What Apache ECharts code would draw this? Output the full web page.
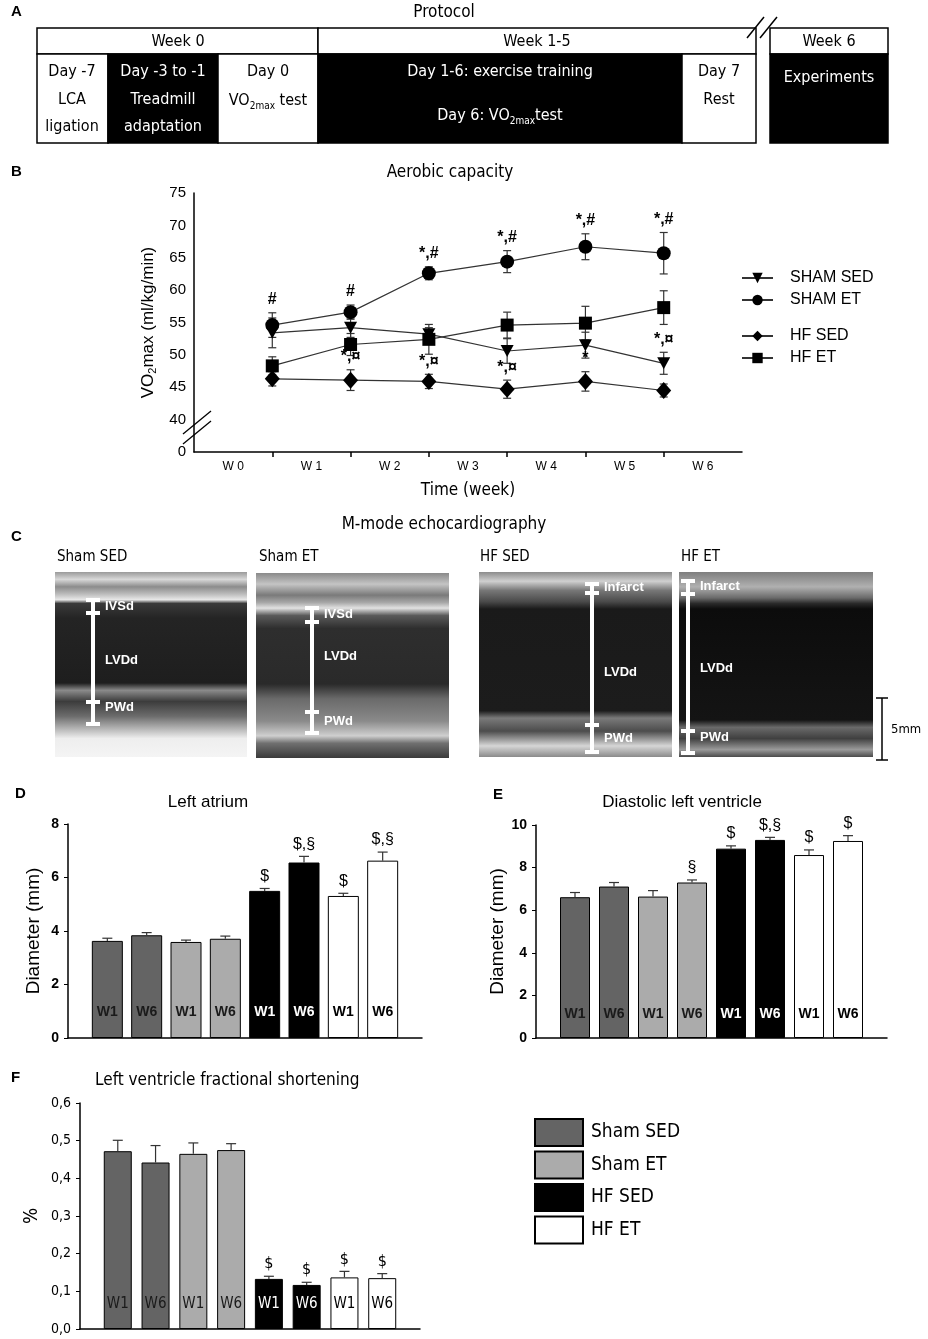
<!DOCTYPE html>
<html>
<head>
<meta charset="utf-8">
<script src="https://cdn.jsdelivr.net/npm/echarts@6/dist/echarts.min.js"></script>
<style>
  html, body { margin: 0; padding: 0; background: #fff; }
  #chart { width: 928px; height: 1339px; }
</style>
</head>
<body>
<div id="chart"></div>
<script>
// ---- panel B: aerobic capacity (VO2max, mean and SEM) ----
const weekLabels = ['W 0', 'W 1', 'W 2', 'W 3', 'W 4', 'W 5', 'W 6']
const shamSed = [53.4, 54.2, 53.2, 50.6, 51.5, 48.7]
const shamSedErr = [2.3, 1.5, 1.0, 1.9, 2.0, 1.7]
const shamSedMark = ['', '', '', '', '', '*,¤']
const shamEt = [54.6, 56.6, 62.6, 64.4, 66.7, 65.7]
const shamEtErr = [1.9, 1.1, 1.0, 1.7, 2.0, 3.2]
const shamEtMark = ['#', '#', '*,#', '*,#', '*,#', '*,#']
const hfSed = [46.3, 46.1, 45.9, 44.7, 45.9, 44.5]
const hfSedErr = [1.1, 1.6, 1.1, 1.4, 1.5, 1.0]
const hfSedMark = ['', '*,¤', '*,¤', '*,¤', '*', '']
const hfEt = [48.3, 51.6, 52.4, 54.6, 54.9, 57.3]
const hfEtErr = [1.4, 1.7, 2.3, 2.0, 2.6, 2.6]
const hfEtMark = ['', '', '', '', '', '']

// ---- panels D, E, F: echo bars (W1, W6 per group) ----
const groups = ['Sham SED', 'Sham ET', 'HF SED', 'HF ET']
const weeks = ['W1', 'W6']
const laMean = [3.63, 3.84, 3.59, 3.71, 5.50, 6.56, 5.31, 6.63]
const laErr = [0.10, 0.10, 0.07, 0.10, 0.09, 0.23, 0.10, 0.32]
const laMark = ['', '', '', '', '$', '$,§', '$', '$,§']
const lvMean = [6.61, 7.11, 6.64, 7.30, 8.89, 9.30, 8.59, 9.25]
const lvErr = [0.22, 0.19, 0.28, 0.12, 0.13, 0.12, 0.24, 0.25]
const lvMark = ['', '', '', '§', '$', '$,§', '$', '$']
const fsMean = [0.472, 0.442, 0.465, 0.475, 0.133, 0.117, 0.137, 0.135]
const fsErr = [0.029, 0.045, 0.029, 0.017, 0.007, 0.007, 0.016, 0.012]
const fsMark = ['', '', '', '', '$', '$', '$', '$']

const FN = '"Liberation Sans Narrow", "Arial Narrow", "DejaVu Sans Condensed", sans-serif'
const FA = '"Liberation Sans", Arial, sans-serif'
const ECHO = ' (echo)' // suffix so bar groups don't share names with panel B lines

const groupColors = ['#646464', '#ababab', '#000000', '#ffffff']
const labelColors = ['#1a1a1a', '#1a1a1a', '#ffffff', '#000000']

const chart = echarts.init(document.getElementById('chart'))

// error bar drawer (custom series)
function errRender(capHalf, both, color) {
  return function (params, api) {
    const x = api.value(0)
    const m = api.value(1)
    const e = api.value(2)
    const top = api.coord([x, m + e])
    const bot = api.coord([x, both ? m - e : m])
    const st = { stroke: color, lineWidth: 1.2 }
    const kids = [
      { type: 'line', shape: { x1: top[0], y1: top[1], x2: bot[0], y2: bot[1] }, style: st },
      { type: 'line', shape: { x1: top[0] - capHalf, y1: top[1], x2: top[0] + capHalf, y2: top[1] }, style: st },
    ]
    if (both) {
      kids.push({ type: 'line', shape: { x1: bot[0] - capHalf, y1: bot[1], x2: bot[0] + capHalf, y2: bot[1] }, style: st })
    }
    return { type: 'group', children: kids }
  }
}

// significance marks above the error bars
function markRender(list, font, gap) {
  return function (params, api) {
    const p = api.coord([api.value(0), api.value(1)])
    return {
      type: 'text',
      style: { text: list[params.dataIndex], x: p[0], y: p[1] - gap, align: 'center', verticalAlign: 'bottom', font: font, fill: '#000' },
    }
  }
}

// ---------- panel B series ----------
const bDefs = [
  { name: 'SHAM SED', mean: shamSed, err: shamSedErr, mark: shamSedMark, symbol: 'path://M0,0 L10,0 L5,9 Z', size: [13, 12] },
  { name: 'SHAM ET', mean: shamEt, err: shamEtErr, mark: shamEtMark, symbol: 'circle', size: 14 },
  { name: 'HF SED', mean: hfSed, err: hfSedErr, mark: hfSedMark, symbol: 'diamond', size: [15, 17] },
  { name: 'HF ET', mean: hfEt, err: hfEtErr, mark: hfEtMark, symbol: 'rect', size: 13 },
]

const series = []
bDefs.forEach((d) => {
  series.push({
    type: 'custom',
    xAxisIndex: 0,
    yAxisIndex: 0,
    z: 1,
    silent: true,
    renderItem: errRender(4, true, '#333'),
    data: d.mean.map((m, i) => [i + 1, m, d.err[i]]),
  })
})
bDefs.forEach((d) => {
  series.push({
    name: d.name,
    type: 'line',
    xAxisIndex: 0,
    yAxisIndex: 0,
    z: 3,
    symbol: d.symbol,
    symbolSize: d.size,
    showAllSymbol: true,
    itemStyle: { color: '#000' },
    lineStyle: { color: '#333', width: 1.2 },
    data: d.mean.map((m, i) => [i + 1, m]),
  })
})
bDefs.forEach((d) => {
  series.push({
    type: 'custom',
    xAxisIndex: 0,
    yAxisIndex: 0,
    z: 4,
    silent: true,
    renderItem: markRender(d.mark, 'bold 16px ' + FA, 5),
    data: d.mean.map((m, i) => [i + 1, m + d.err[i]]),
  })
})

// ---------- bar panels ----------
function barPanel(xa, ya, mean, err, mark, barW, lbl, lblDist, markFont) {
  groups.forEach((grp, j) => {
    series.push({
      name: grp + ECHO,
      type: 'bar',
      xAxisIndex: xa,
      yAxisIndex: ya,
      barWidth: barW,
      barGap: '-100%',
      z: 2,
      itemStyle: { color: groupColors[j], borderColor: '#000', borderWidth: 1 },
      label: Object.assign({
        show: true,
        position: 'insideBottom',
        distance: lblDist,
        formatter: (p) => weeks[p.dataIndex],
        color: labelColors[j],
      }, lbl),
      data: [[2 * j + 1, mean[2 * j]], [2 * j + 2, mean[2 * j + 1]]],
    })
  })
  series.push({
    type: 'custom',
    xAxisIndex: xa,
    yAxisIndex: ya,
    z: 3,
    silent: true,
    renderItem: errRender(5, false, '#333'),
    data: mean.map((m, i) => [i + 1, m, err[i]]),
  })
  series.push({
    type: 'custom',
    xAxisIndex: xa,
    yAxisIndex: ya,
    z: 4,
    silent: true,
    renderItem: markRender(mark, markFont, 4),
    data: mean.map((m, i) => [i + 1, m + err[i]]),
  })
}
barPanel(2, 1, laMean, laErr, laMark, 31, { fontSize: 14, fontWeight: 'bold', fontFamily: FA }, 19, '16px ' + FA)
barPanel(3, 2, lvMean, lvErr, lvMark, 30, { fontSize: 14, fontWeight: 'bold', fontFamily: FA }, 17, '16px ' + FA)
barPanel(4, 3, fsMean, fsErr, fsMark, 28, { fontSize: 15, fontFamily: FN }, 17, '16px ' + FN)

// ---------- static drawing: panel A protocol, panel C echo frames, titles ----------
const g = []
function rect(x, y, w, h, fill, lw) {
  g.push({ type: 'rect', shape: { x: x, y: y, width: w, height: h }, style: { fill: fill, stroke: '#000', lineWidth: lw == null ? 1.5 : lw } })
}
function txt(x, y, text, font, fill, align, rich) {
  g.push({
    type: 'text',
    z: 10,
    style: { text: text, x: x, y: y, font: font, fill: fill || '#000', align: align || 'center', verticalAlign: 'middle', rich: rich },
  })
}
function line(x1, y1, x2, y2, color, lw) {
  g.push({ type: 'line', z: 10, shape: { x1: x1, y1: y1, x2: x2, y2: y2 }, style: { stroke: color, lineWidth: lw } })
}
const subRich = (col) => ({
  a: { fontSize: 16, fontFamily: FN, lineHeight: 20, fill: col },
  s: { fontSize: 10, fontFamily: FN, lineHeight: 12, verticalAlign: 'bottom', fill: col },
})

// panel letters and titles
txt(11, 12, 'A', 'bold 15px ' + FA, '#000', 'left')
txt(444, 13, 'Protocol', '17px ' + FN)
txt(11, 172, 'B', 'bold 15px ' + FA, '#000', 'left')
txt(450, 173, 'Aerobic capacity', '17px ' + FN)
txt(11, 537, 'C', 'bold 15px ' + FA, '#000', 'left')
txt(444, 525, 'M-mode echocardiography', '17px ' + FN)
txt(15, 794, 'D', 'bold 15px ' + FA, '#000', 'left')
txt(208, 802, 'Left atrium', '17px ' + FA)
txt(493, 795, 'E', 'bold 15px ' + FA, '#000', 'left')
txt(682, 802, 'Diastolic left ventricle', '17px ' + FA)
txt(11, 1078, 'F', 'bold 15px ' + FA, '#000', 'left')
txt(95, 1081, 'Left ventricle fractional shortening', '17px ' + FN, '#000', 'left')

// panel A: protocol boxes
rect(37, 28, 281, 26, '#fff')
rect(318, 28, 438, 26, '#fff')
rect(37, 54, 71, 89, '#fff')
rect(108, 54, 110, 89, '#000')
rect(218, 54, 100, 89, '#fff')
rect(318, 54, 364, 89, '#000')
rect(682, 54, 74, 89, '#fff')
rect(770, 28, 118, 26, '#fff')
rect(770, 54, 118, 89, '#000')
line(747, 38, 764, 17, '#000', 1.5)
line(760, 38, 777, 17, '#000', 1.5)
const f16 = '16px ' + FN
txt(178, 42, 'Week 0', f16)
txt(537, 42, 'Week 1-5', f16)
txt(829, 42, 'Week 6', f16)
txt(72, 72, 'Day -7', f16)
txt(72, 100, 'LCA', f16)
txt(72, 127, 'ligation', f16)
txt(163, 72, 'Day -3 to -1', f16, '#fff')
txt(163, 100, 'Treadmill', f16, '#fff')
txt(163, 127, 'adaptation', f16, '#fff')
txt(268, 72, 'Day 0', f16)
txt(268, 101, '{a|VO}{s|2max}{a| test}', f16, '#000', 'center', subRich('#000'))
txt(500, 72, 'Day 1-6: exercise training', f16, '#fff')
txt(500, 116, '{a|Day 6: VO}{s|2max}{a|test}', f16, '#fff', 'center', subRich('#fff'))
txt(719, 72, 'Day 7', f16)
txt(719, 100, 'Rest', f16)
txt(829, 78, 'Experiments', f16, '#fff')

// panel B: axis break marks
line(183, 434, 211, 411, '#000', 1.3)
line(183, 444, 211, 421, '#000', 1.3)

// panel C: echo frames (grey-scale approximation of the M-mode images)
function grad(stops) {
  return { type: 'linear', x: 0, y: 0, x2: 0, y2: 1, colorStops: stops.map((s) => ({ offset: s[0], color: s[1] })) }
}
const echoFrames = [
  { title: 'Sham SED', tx: 57, x: 55, y: 572, w: 192, h: 185,
    stops: [[0, '#9a9a9a'], [0.04, '#d8d8d8'], [0.08, '#8c8c8c'], [0.12, '#bdbdbd'], [0.15, '#e8e8e8'], [0.17, '#3a3a3a'], [0.25, '#242424'], [0.6, '#1e1e1e'], [0.64, '#8a8a8a'], [0.7, '#3c3c3c'], [0.78, '#6c6c6c'], [0.85, '#b8b8b8'], [0.9, '#eeeeee'], [1, '#f4f4f4']] },
  { title: 'Sham ET', tx: 259, x: 256, y: 573, w: 193, h: 185,
    stops: [[0, '#8a8a8a'], [0.06, '#c4c4c4'], [0.12, '#7a7a7a'], [0.16, '#a8a8a8'], [0.19, '#e2e2e2'], [0.23, '#5a5a5a'], [0.3, '#2e2e2e'], [0.6, '#2a2a2a'], [0.68, '#6a6a6a'], [0.8, '#8a8a8a'], [0.88, '#cfcfcf'], [0.92, '#707070'], [1, '#3a3a3a']] },
  { title: 'HF SED', tx: 480, x: 479, y: 572, w: 193, h: 185,
    stops: [[0, '#8c8c8c'], [0.05, '#d0d0d0'], [0.1, '#777777'], [0.16, '#4a4a4a'], [0.2, '#1a1a1a'], [0.75, '#1c1c1c'], [0.79, '#7a7a7a'], [0.86, '#4c4c4c'], [0.94, '#d6d6d6'], [1, '#8a8a8a']] },
  { title: 'HF ET', tx: 681, x: 679, y: 572, w: 194, h: 185,
    stops: [[0, '#7e7e7e'], [0.08, '#b0b0b0'], [0.14, '#6a6a6a'], [0.17, '#2a2a2a'], [0.2, '#0c0c0c'], [0.8, '#141414'], [0.84, '#6a6a6a'], [0.9, '#404040'], [0.96, '#9a9a9a'], [1, '#4a4a4a']] },
]
echoFrames.forEach((f) => {
  g.push({ type: 'rect', shape: { x: f.x, y: f.y, width: f.w, height: f.h }, style: { fill: grad(f.stops) } })
  txt(f.tx, 557, f.title, '15px ' + FN, '#000', 'left')
})
// white calliper bars: x, cap y's, label list
const callipers = [
  { x: 93, caps: [600, 613, 702, 724], labels: [['IVSd', 606], ['LVDd', 660], ['PWd', 707]] },
  { x: 312, caps: [608, 622, 712, 733], labels: [['IVSd', 614], ['LVDd', 656], ['PWd', 721]] },
  { x: 592, caps: [584, 593, 725, 752], labels: [['Infarct', 587], ['LVDd', 672], ['PWd', 738]] },
  { x: 688, caps: [581, 594, 731, 753], labels: [['Infarct', 586], ['LVDd', 668], ['PWd', 737]] },
]
callipers.forEach((c) => {
  g.push({ type: 'rect', z: 9, shape: { x: c.x - 2, y: c.caps[0], width: 4, height: c.caps[3] - c.caps[0] }, style: { fill: '#fff' } })
  c.caps.forEach((cy) => {
    g.push({ type: 'rect', z: 9, shape: { x: c.x - 7, y: cy - 2, width: 14, height: 4 }, style: { fill: '#fff' } })
  })
  c.labels.forEach((l) => txt(c.x + 12, l[1], l[0], 'bold 13px ' + FA, '#fff', 'left'))
})
// 5 mm scale
line(882, 698, 882, 760, '#000', 1.5)
line(876, 698, 888, 698, '#000', 1.5)
line(876, 760, 888, 760, '#000', 1.5)
txt(891, 730, '5mm', '13px ' + FN, '#000', 'left')

// ---------- axes ----------
const barX = (gi) => ({
  type: 'value', gridIndex: gi, min: 0, max: 9,
  axisLine: { show: true, lineStyle: { color: '#000', width: 1.5 } },
  axisTick: { show: false }, axisLabel: { show: false }, splitLine: { show: false },
})
const barY = (gi, max, interval, fmt, lbl, name, gap, nameStyle) => ({
  type: 'value', gridIndex: gi, min: 0, max: max, interval: interval,
  axisLine: { show: true, lineStyle: { color: '#000', width: 1.5 } },
  axisTick: { show: true, length: 4, lineStyle: { color: '#000' } },
  axisLabel: Object.assign({ formatter: fmt, color: '#000', margin: 9 }, lbl),
  splitLine: { show: false },
  name: name, nameLocation: 'middle', nameGap: gap, nameRotate: 90,
  nameTextStyle: Object.assign({ color: '#000' }, nameStyle),
})

const option = {
  backgroundColor: '#fff',
  animation: false,
  graphic: { elements: g },
  grid: [
    { left: 194, right: 186, top: 193, bottom: 887 },
    { left: 68, right: 506, top: 824, bottom: 301 },
    { left: 536, right: 41, top: 825, bottom: 301 },
    { left: 80, right: 508, top: 1103, bottom: 10 },
  ],
  xAxis: [
    {
      type: 'value', gridIndex: 0, min: 0, max: 7, interval: 1,
      axisLine: { show: true, onZero: false, lineStyle: { color: '#000', width: 1.5 } },
      axisTick: { show: true, length: 5, inside: false, customValues: [1, 2, 3, 4, 5, 6], lineStyle: { color: '#000', width: 1.5 } },
      axisLabel: { show: false }, splitLine: { show: false },
    },
    {
      type: 'category', gridIndex: 0, data: weekLabels, boundaryGap: true, position: 'bottom', offset: 0,
      axisLine: { show: false }, axisTick: { show: false },
      axisLabel: { color: '#000', fontSize: 12, fontFamily: FA, margin: 9 },
      name: 'Time (week)', nameLocation: 'middle', nameGap: 30,
      nameTextStyle: { fontSize: 17, fontFamily: FN, color: '#000' },
    },
    barX(1), barX(2), barX(3),
  ],
  yAxis: [
    {
      type: 'value', gridIndex: 0, min: 35, max: 75, interval: 5,
      axisLine: { show: true, lineStyle: { color: '#000', width: 1.5 } },
      axisTick: { show: false },
      axisLabel: { formatter: (v) => (v === 35 ? '0' : v), color: '#000', fontSize: 15, fontFamily: FA, margin: 8 },
      splitLine: { show: false },
      name: '{a|VO}{s|2}{a|max (ml/kg/min)}', nameLocation: 'middle', nameGap: 33, nameRotate: 90,
      nameTextStyle: {
        color: '#000',
        rich: {
          a: { fontSize: 17, fontFamily: FA, color: '#000', lineHeight: 20 },
          s: { fontSize: 11, fontFamily: FA, color: '#000', lineHeight: 12, verticalAlign: 'bottom' },
        },
      },
    },
    barY(1, 8, 2, (v) => v, { fontSize: 14, fontWeight: 'bold', fontFamily: FA }, 'Diameter (mm)', 25, { fontSize: 19, fontFamily: FA }),
    barY(2, 10, 2, (v) => v, { fontSize: 14, fontWeight: 'bold', fontFamily: FA }, 'Diameter (mm)', 27, { fontSize: 19, fontFamily: FA }),
    barY(3, 0.6, 0.1, (v) => v.toFixed(1).replace('.', ','), { fontSize: 14, fontFamily: FN }, '%', 38, { fontSize: 19, fontFamily: FN }),
  ],
  legend: [
    {
      data: ['SHAM SED', 'SHAM ET'], orient: 'vertical', left: 736, top: 265,
      itemWidth: 31, itemHeight: 13, itemGap: 6, selectedMode: false,
      textStyle: { fontSize: 16, fontFamily: FA, color: '#000', lineHeight: 14, padding: [0, 0, 0, 12] },
    },
    {
      data: ['HF SED', 'HF ET'], orient: 'vertical', left: 736, top: 323,
      itemWidth: 31, itemHeight: 13, itemGap: 6, selectedMode: false,
      textStyle: { fontSize: 16, fontFamily: FA, color: '#000', lineHeight: 14, padding: [0, 0, 0, 12] },
    },
    {
      data: groups.map((grp) => grp + ECHO), orient: 'vertical', left: 529, top: 1113,
      icon: 'rect', itemWidth: 48, itemHeight: 27, itemGap: 3.5, selectedMode: false,
      itemStyle: { borderColor: '#000', borderWidth: 2 },
      formatter: (name) => name.replace(ECHO, ''),
      textStyle: { fontSize: 19, fontFamily: FN, color: '#000', lineHeight: 17, padding: [10, 0, 0, 3] },
    },
  ],
  series: series,
}

chart.setOption(option)
</script>
</body>
</html>
